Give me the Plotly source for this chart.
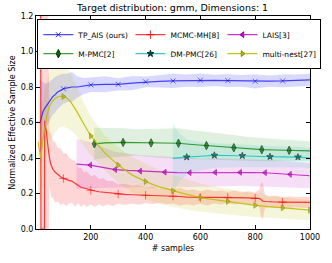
import plotly.graph_objects as go

# ---------------- data ----------------
tp_x = [14, 20, 25, 32, 40, 50, 61, 70, 78, 90, 100, 115, 131, 150, 175, 200, 250, 300, 350, 400,
        450, 500, 550, 600, 650, 700, 750, 800, 850, 900, 950, 1000]
tp_y = [0.595, 0.63, 0.66, 0.68, 0.70, 0.72, 0.745, 0.757, 0.77, 0.782, 0.79, 0.795, 0.80, 0.80, 0.805,
        0.812, 0.815, 0.815, 0.822, 0.829, 0.832, 0.834, 0.836, 0.838, 0.837, 0.836, 0.834, 0.832,
        0.833, 0.834, 0.836, 0.84]
tp_sd = [0.25, 0.2, 0.17, 0.14, 0.12, 0.11, 0.1, 0.1, 0.095, 0.09, 0.085, 0.08, 0.085, 0.06, 0.045,
         0.04, 0.045, 0.035, 0.04, 0.03, 0.035, 0.04, 0.035, 0.038, 0.032, 0.036, 0.033, 0.04, 0.032,
         0.036, 0.034, 0.035]
tp_markers = [100, 200, 300, 400, 500, 600, 700, 800, 900]

mh_x = [17, 18, 31, 32, 35, 38, 41, 45, 49, 55, 62, 70, 80, 90, 100, 110, 120, 131, 143, 154,
        165, 175, 185, 200, 215, 230, 245, 260, 280, 300, 325, 350, 375, 400, 425, 450, 475, 500,
        525, 550, 575, 600, 625, 650, 675, 700, 725, 750, 775, 800, 815, 822, 828, 835, 850, 875,
        900, 925, 950, 975, 1000]
mh_y = [1.35, 0.0, 0.0, 0.61, 0.57, 0.55, 0.50, 0.44, 0.40, 0.36, 0.335, 0.32, 0.305, 0.295, 0.285,
        0.278, 0.274, 0.27, 0.255, 0.245, 0.235, 0.23, 0.225, 0.218, 0.214, 0.21, 0.207, 0.205, 0.2,
        0.197, 0.195, 0.193, 0.192, 0.19, 0.189, 0.188, 0.187, 0.185, 0.183, 0.18, 0.178, 0.177,
        0.178, 0.178, 0.178, 0.178, 0.177, 0.176, 0.175, 0.173, 0.172, 0.165, 0.157, 0.155, 0.153,
        0.152, 0.151, 0.151, 0.151, 0.15, 0.15]
mh_sd = [1.4, 1.3, 1.3, 0.62, 0.7, 0.7, 0.8, 0.8, 0.15, 0.18, 0.16, 0.17, 0.15, 0.16, 0.14, 0.15,
         0.13, 0.12, 0.13, 0.1, 0.11, 0.09, 0.1, 0.08, 0.09, 0.07, 0.08, 0.065, 0.07, 0.055, 0.06,
         0.05, 0.055, 0.045, 0.05, 0.04, 0.048, 0.042, 0.05, 0.04, 0.045, 0.035, 0.045, 0.035, 0.04,
         0.032, 0.04, 0.03, 0.038, 0.032, 0.05, 0.1, 0.1, 0.04, 0.03, 0.035, 0.028, 0.033, 0.028,
         0.032, 0.03]
mh_markers = [100, 200, 300, 400, 500, 600, 700, 800, 900]

la_x = [148, 198, 243, 289, 335, 380, 425, 470, 515, 561, 607, 654, 700, 745, 790, 836, 881, 927,
        965, 1000]
la_y = [0.366, 0.36, 0.347, 0.335, 0.33, 0.326, 0.323, 0.32, 0.318, 0.317, 0.318, 0.319, 0.319,
        0.319, 0.318, 0.317, 0.313, 0.308, 0.304, 0.30]
la_sd = [0.14, 0.13, 0.115, 0.1, 0.095, 0.09, 0.09, 0.088, 0.085, 0.08, 0.078, 0.08, 0.078, 0.075,
         0.076, 0.075, 0.074, 0.073, 0.072, 0.07]
la_markers = [198, 289, 380, 470, 561, 654, 745, 836, 927]

mp_x = [213, 250, 318, 370, 420, 470, 520, 570, 622, 672, 722, 772, 824, 874, 924, 1000]
mp_y = [0.48, 0.485, 0.488, 0.487, 0.485, 0.484, 0.483, 0.476, 0.47, 0.464, 0.458, 0.452, 0.447,
        0.445, 0.443, 0.44]
mp_sd = [0.09, 0.085, 0.08, 0.075, 0.08, 0.085, 0.085, 0.08, 0.078, 0.075, 0.072, 0.068, 0.065,
         0.062, 0.06, 0.055]
mp_markers = [213, 318, 420, 520, 622, 722, 824, 924]

dm_x = [499, 520, 550, 600, 651, 700, 753, 800, 854, 900, 956, 1000]
dm_y = [0.398, 0.402, 0.405, 0.41, 0.415, 0.414, 0.413, 0.41, 0.407, 0.406, 0.405, 0.40]
dm_sd = [0.2, 0.14, 0.1, 0.08, 0.07, 0.068, 0.065, 0.062, 0.06, 0.06, 0.058, 0.056]
dm_markers = [550, 651, 753, 854, 956]

mn_x = [8, 17, 25, 32, 40, 49, 60, 70, 80, 90, 100, 110, 125, 150, 175, 200, 250, 300, 350, 400,
        450, 500, 550, 600, 650, 700, 750, 800, 850, 900, 950, 1000]
mn_y = [0.49, 0.40, 0.50, 0.58, 0.64, 0.69, 0.72, 0.735, 0.745, 0.748, 0.746, 0.74, 0.72, 0.66,
        0.59, 0.524, 0.43, 0.36, 0.305, 0.267, 0.237, 0.215, 0.195, 0.177, 0.165, 0.155, 0.143,
        0.133, 0.126, 0.119, 0.112, 0.106]
mn_sd = [0.3, 0.25, 0.22, 0.2, 0.2, 0.2, 0.2, 0.19, 0.18, 0.17, 0.17, 0.17, 0.16, 0.14, 0.12, 0.11,
         0.1, 0.1, 0.1, 0.1, 0.095, 0.09, 0.085, 0.08, 0.075, 0.072, 0.068, 0.065, 0.062, 0.06,
         0.058, 0.056]
mn_markers = [100, 200, 300, 400, 500, 600, 700, 800, 900, 1000]

x_ticks = [200, 400, 600, 800, 1000]
y_ticks = [0.0, 0.2, 0.4, 0.6, 0.8, 1.0, 1.2]

title_text = "Target distribution: gmm, Dimensions: 1"
x_label = "# samples"
y_label = "Normalized Effective Sample Size"

# ---------------- styles ----------------
FONT = "DejaVu Sans"
series = [
    ("TP_AIS (ours)", tp_x, tp_y, tp_sd, tp_markers, (0, 0, 255), 0.7, 0.15, "x-thin-open", 5,
     "rgba(0,0,255,0.8)", "rgba(0,0,255,0.8)"),
    ("MCMC-MH[8]", mh_x, mh_y, mh_sd, mh_markers, (255, 0, 0), 0.75, 0.16, "cross-thin-open", 6,
     "rgba(255,0,0,0.8)", "rgba(255,0,0,0.8)"),
    ("LAIS[3]", la_x, la_y, la_sd, la_markers, (191, 0, 191), 0.8, 0.13, "triangle-left", 5,
     "rgb(200,0,200)", "rgb(150,0,150)"),
    ("M-PMC[2]", mp_x, mp_y, mp_sd, mp_markers, (0, 128, 0), 0.75, 0.12, "diamond-tall", 6,
     "rgb(0,100,0)", "rgb(0,50,0)"),
    ("DM-PMC[26]", dm_x, dm_y, dm_sd, dm_markers, (0, 191, 191), 0.8, 0.12, "star", 5,
     "rgb(0,80,80)", "rgb(0,40,40)"),
    ("multi-nest[27]", mn_x, mn_y, mn_sd, mn_markers, (191, 191, 0), 0.9, 0.15, "triangle-right", 5,
     "rgb(180,180,0)", "rgb(140,140,0)"),
]

fig = go.Figure()

for name, xs, ys, sds, mk, rgb, la, ba, sym, ms, mfc, mlc in series:
    upper = [v + s for v, s in zip(ys, sds)]
    lower = [v - s for v, s in zip(ys, sds)]
    fig.add_trace(go.Scatter(
        x=list(xs) + list(xs)[::-1], y=upper + lower[::-1], fill="toself", mode="lines",
        line=dict(width=0), fillcolor="rgba(%d,%d,%d,%.2f)" % (rgb + (ba,)),
        showlegend=False, hoverinfo="skip"))

for name, xs, ys, sds, mk, rgb, la, ba, sym, ms, mfc, mlc in series:
    sizes = [ms if xv in mk else 0 for xv in xs]
    fig.add_trace(go.Scatter(
        x=xs, y=ys, mode="lines+markers", name=name, showlegend=False,
        line=dict(color="rgba(%d,%d,%d,%.2f)" % (rgb + (la,)), width=1.2),
        marker=dict(symbol=sym, size=sizes, color=mfc, line=dict(color=mlc, width=1))))

for name, xs, ys, sds, mk, rgb, la, ba, sym, ms, mfc, mlc in series:
    fig.add_trace(go.Scatter(
        x=[None], y=[None], mode="lines+markers", name=name, showlegend=True,
        line=dict(color="rgba(%d,%d,%d,%.2f)" % (rgb + (la,)), width=1.2),
        marker=dict(symbol=sym, size=ms, color=mfc, line=dict(color=mlc, width=1))))

axis_common = dict(showline=True, linecolor="black", linewidth=1, mirror="ticks",
                   ticks="inside", ticklen=4, tickcolor="black", showgrid=False, zeroline=False,
                   tickfont=dict(family=FONT, size=8, color="black"))

fig.update_layout(
    width=332, height=263,
    margin=dict(l=31, r=16, t=15, b=26),
    paper_bgcolor="white", plot_bgcolor="white",
    font=dict(family=FONT, size=8, color="black"),
    title=dict(text=title_text, x=0.52, xanchor="center", y=0.97, yanchor="middle",
               font=dict(family=FONT, size=9.5, color="black")),
    xaxis=dict(range=[0, 1000], tickvals=x_ticks, ticktext=[str(v) for v in x_ticks],
               title=dict(text=x_label, standoff=4, font=dict(family=FONT, size=8)),
               **axis_common),
    yaxis=dict(range=[0, 1.2], tickvals=y_ticks, ticktext=["%.1f" % v for v in y_ticks],
               title=dict(text=y_label, standoff=3, font=dict(family=FONT, size=8)),
               **axis_common),
    legend=dict(orientation="h", x=0.005, xanchor="left", y=0.985, yanchor="top",
                entrywidth=0.336, entrywidthmode="fraction", itemwidth=30,
                bgcolor="white", bordercolor="black", borderwidth=1,
                font=dict(family=FONT, size=7.5, color="black")),
)

fig.write_html("out.html", post_script="document.body.style.margin='0';",
               config={"displayModeBar": False})
